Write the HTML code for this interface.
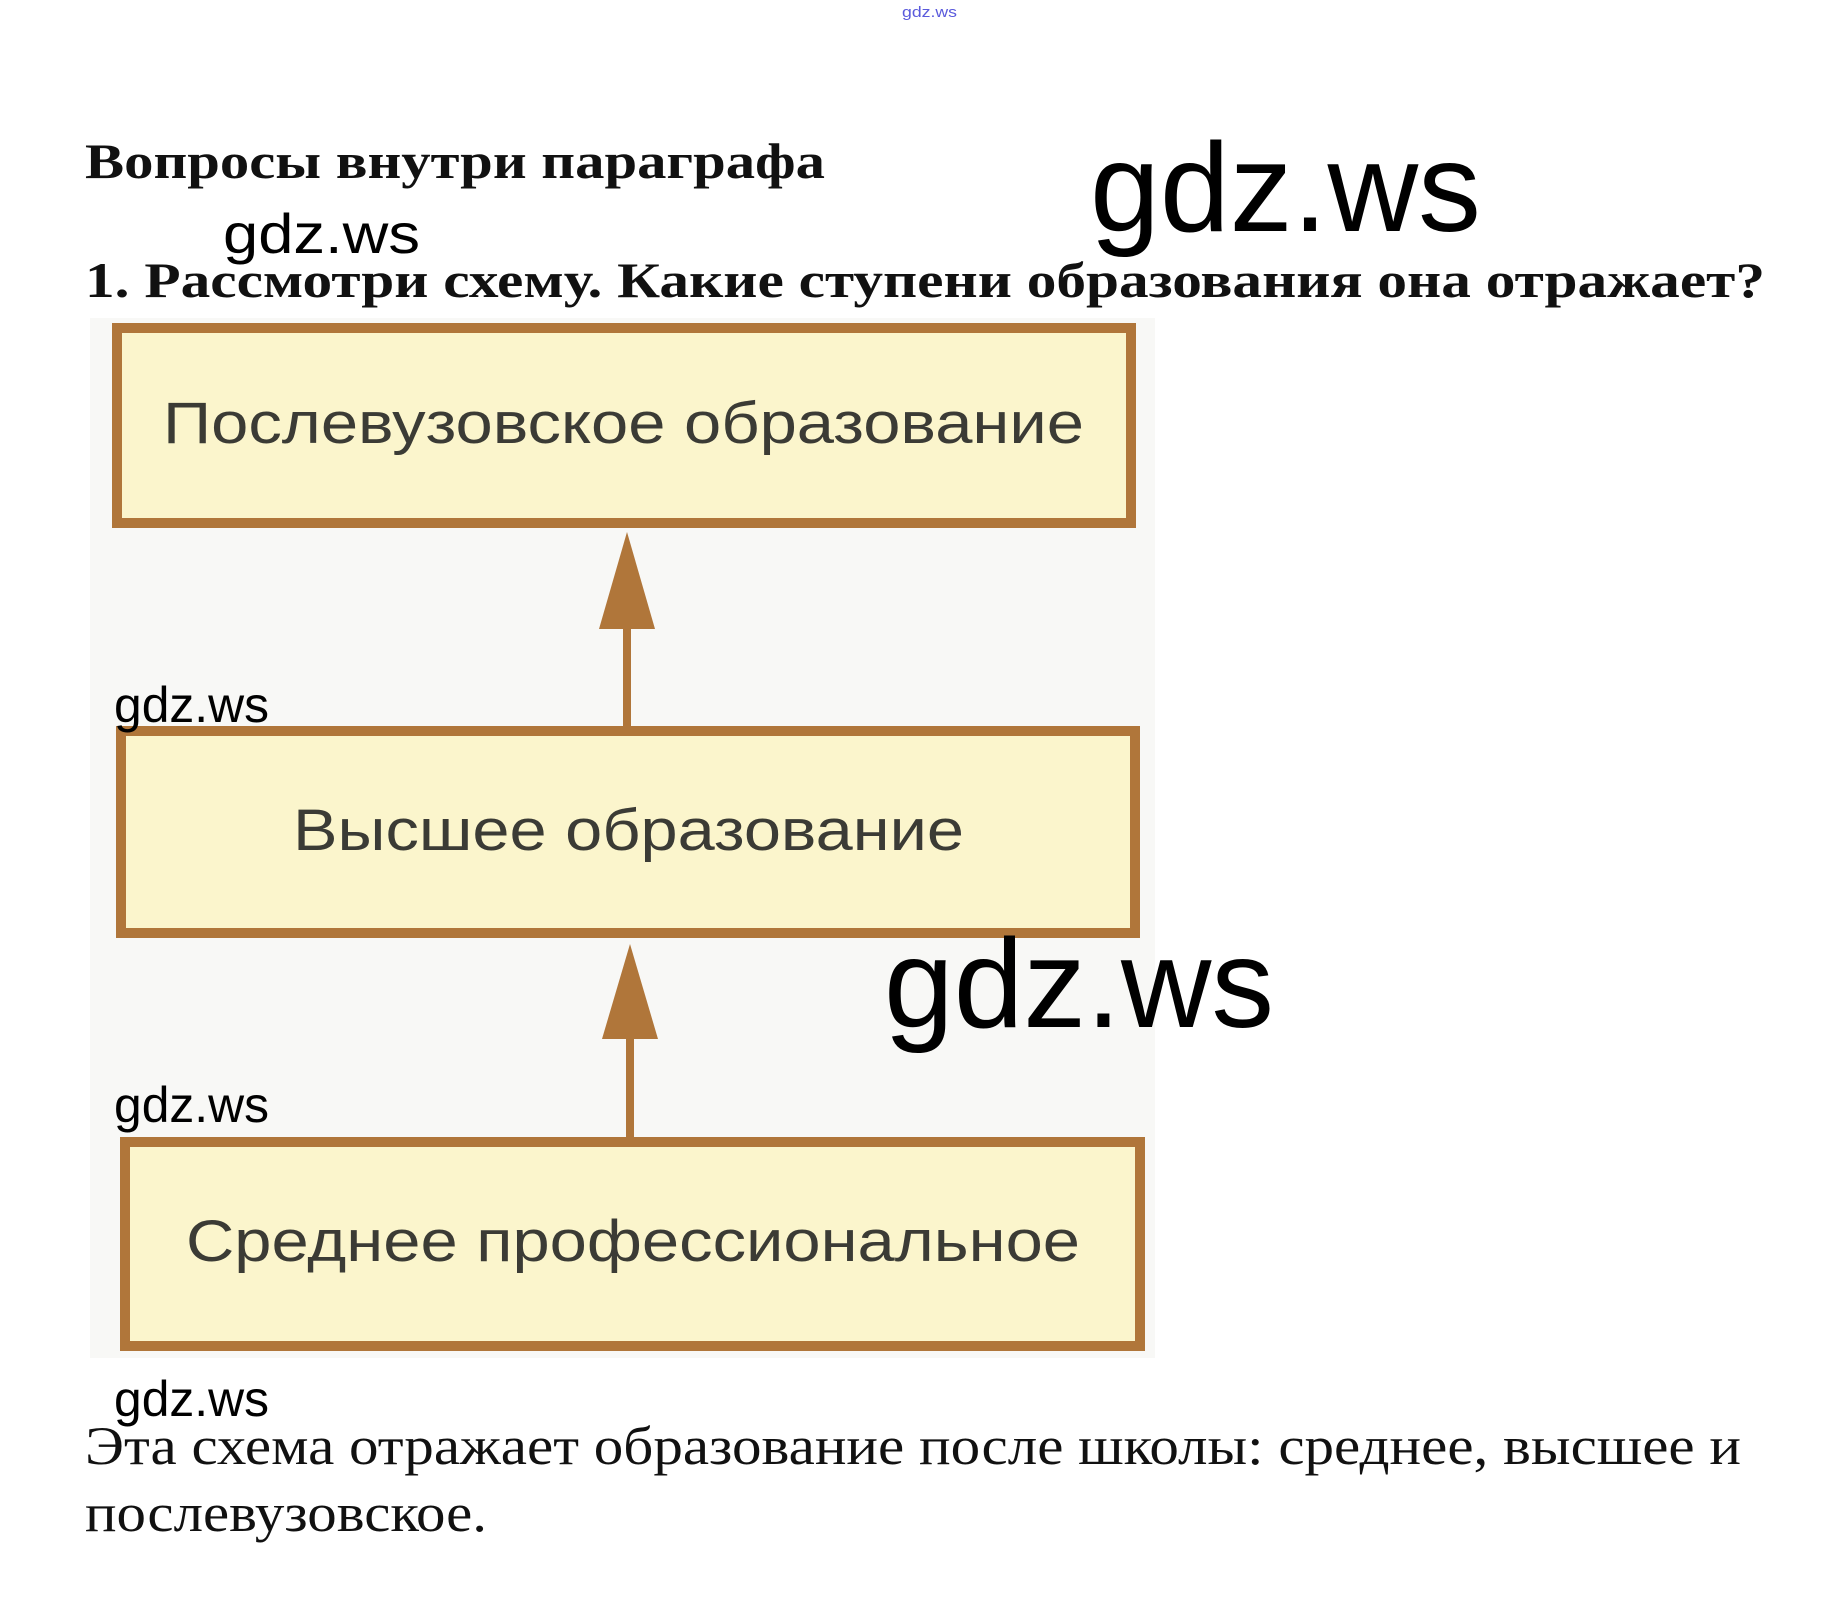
<!DOCTYPE html>
<html><head><meta charset="utf-8"><style>
html,body{margin:0;padding:0;background:#fff;width:1842px;height:1610px;overflow:hidden}
svg{display:block}
</style></head><body>
<svg width="1842" height="1610" viewBox="0 0 1842 1610" xmlns="http://www.w3.org/2000/svg">
<rect x="90" y="318" width="1065" height="1040" fill="#f8f8f6"/>
<text x="902" y="17" font-family="Liberation Sans, sans-serif" font-size="15" fill="#5a5adc" textLength="55" lengthAdjust="spacingAndGlyphs">gdz.ws</text>
<text x="85" y="178" font-family="Liberation Serif, serif" font-weight="bold" font-size="50" fill="#111" textLength="740" lengthAdjust="spacingAndGlyphs">Вопросы внутри параграфа</text>
<text x="85" y="297" font-family="Liberation Serif, serif" font-weight="bold" font-size="50" fill="#111" textLength="1680" lengthAdjust="spacingAndGlyphs">1. Рассмотри схему. Какие ступени образования она отражает?</text>
<g fill="#fbf5cc" stroke="#b0763a" stroke-width="10">
<rect x="117" y="328" width="1014" height="195"/>
<rect x="121" y="731" width="1014" height="202"/>
<rect x="125" y="1142" width="1015" height="204"/>
</g>
<g fill="#b0763a" stroke="#b0763a">
<line x1="627" y1="620" x2="627" y2="731" stroke-width="8"/>
<polygon points="627,532 599,629 655,629" stroke="none"/>
<line x1="630" y1="1030" x2="630" y2="1142" stroke-width="8"/>
<polygon points="630,944 602,1039 658,1039" stroke="none"/>
</g>
<g font-family="Liberation Sans, sans-serif" font-size="58" fill="#3b3b35">
<text x="163" y="443" textLength="921" lengthAdjust="spacingAndGlyphs">Послевузовское образование</text>
<text x="293" y="850" textLength="671" lengthAdjust="spacingAndGlyphs">Высшее образование</text>
<text x="186" y="1261" textLength="894" lengthAdjust="spacingAndGlyphs">Среднее профессиональное</text>
</g>
<g font-family="Liberation Sans, sans-serif" fill="#000">
<text x="223" y="253" font-size="56" textLength="197" lengthAdjust="spacingAndGlyphs">gdz.ws</text>
<text x="1090" y="231" font-size="126" textLength="391" lengthAdjust="spacingAndGlyphs">gdz.ws</text>
<text x="884" y="1027" font-size="126" textLength="390" lengthAdjust="spacingAndGlyphs">gdz.ws</text>
<text x="114" y="722" font-size="50" textLength="155" lengthAdjust="spacingAndGlyphs">gdz.ws</text>
<text x="114" y="1122" font-size="50" textLength="155" lengthAdjust="spacingAndGlyphs">gdz.ws</text>
<text x="114" y="1416" font-size="50" textLength="155" lengthAdjust="spacingAndGlyphs">gdz.ws</text>
</g>
<g font-family="Liberation Serif, serif" font-size="54" fill="#111">
<text x="85" y="1464" textLength="1656" lengthAdjust="spacingAndGlyphs">Эта схема отражает образование после школы: среднее, высшее и</text>
<text x="85" y="1531" textLength="402" lengthAdjust="spacingAndGlyphs">послевузовское.</text>
</g>
</svg>
</body></html>
